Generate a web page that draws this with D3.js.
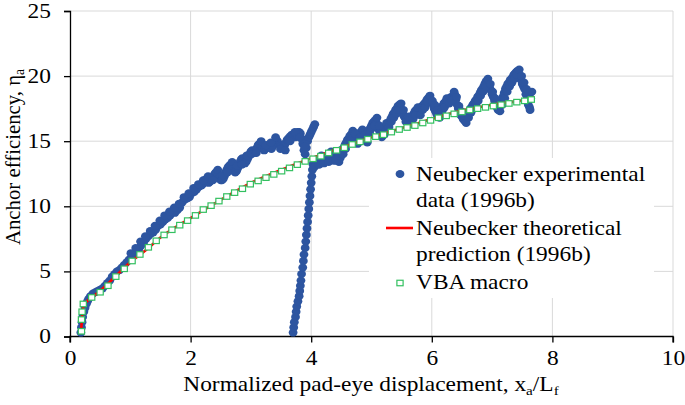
<!DOCTYPE html>
<html>
<head>
<meta charset="utf-8">
<script src="https://cdn.jsdelivr.net/npm/d3@7"></script>
<style>
  html, body { margin: 0; padding: 0; background: #fff; }
</style>
</head>
<body>
<svg id="chart" width="685" height="405" style="font-family: 'Liberation Serif', 'Times New Roman', serif;"></svg>
<script>
// ---------- DATA ----------
const xTicks = [0, 2, 4, 6, 8, 10];
const yTicks = [0, 5, 10, 15, 20, 25];
const xTitle = "Normalized pad-eye displacement, x";
const yTitle = "Anchor efficiency, η";
const seriesNames = ["Neubecker experimental|data (1996b)", "Neubecker theoretical|prediction (1996b)", "VBA macro"];

// Experimental data (blue dots): first loading branch
const expX1 = [
  0.18,0.19,0.20,0.21,0.23,0.25,0.27,0.29,0.31,0.34,0.38,0.42,0.46,0.50,0.54,0.58,0.62,0.66,0.70,0.74,
  0.78,0.82,0.86,0.90,0.94,0.98,1.02,1.06,1.10,1.14,1.18,1.22,1.26,1.30,1.34,1.38,1.42,1.46,1.50,1.54,
  1.58,1.62,1.66,1.70,1.74,1.78,1.82,1.86,1.90,1.94,1.98,2.02,2.06,2.10,2.14,2.18,
  2.20,2.22,2.24,2.26,2.28,2.30,2.32,2.34,2.36,2.38,2.40,2.42,2.44,2.46,2.48,2.50,2.52,2.54,2.56,2.58,
  2.60,2.62,2.64,2.66,2.68,2.70,2.72,2.74,2.76,2.78,2.80,2.82,2.84,2.86,2.88,2.90,2.92,2.94,2.96,2.98,
  3.00,3.02,3.04,3.06,3.08,3.10,3.12,3.14,3.16,3.18,3.20,3.22,3.24,3.26,3.28,3.30,3.32,3.34,3.36,3.38,
  3.40,3.42,3.44,3.46,3.48,3.50,3.52,3.54,3.56,3.58,3.60,3.62,3.64,3.66,3.68,3.70,3.72,3.74,3.76,3.78,
  3.80,3.82,3.84,3.86,3.88,3.90,3.92,3.94,3.96,3.98,4.00,4.02,4.04,4.06
];
const expY1 = [
  0.3,0.7,1.1,1.5,1.9,2.2,2.5,2.7,2.9,3.1,3.3,3.4,3.5,3.6,3.7,3.9,4.1,4.3,4.6,4.8,
  5.0,5.1,5.3,5.5,5.7,5.9,6.1,6.3,6.5,6.7,7.0,7.2,7.5,7.7,7.9,8.0,8.2,8.5,8.6,8.8,
  9.0,9.1,9.3,9.6,9.5,9.7,9.9,10.3,10.5,10.6,10.7,11.0,11.1,11.3,11.5,11.6,
  11.7,11.8,12.0,12.1,12.0,11.8,11.9,12.0,12.2,12.3,12.5,12.6,12.5,12.4,12.2,12.0,12.0,12.1,12.3,12.6,
  12.8,13.0,13.1,13.2,13.1,12.9,12.7,12.6,12.7,12.9,13.2,13.4,13.6,13.7,13.5,13.3,13.4,13.6,13.8,14.0,
  14.2,14.3,14.2,14.1,14.3,14.5,14.7,14.8,14.7,14.6,14.4,14.3,14.4,14.5,14.6,14.7,14.6,14.4,14.6,14.9,
  15.0,15.1,15.0,14.8,14.7,14.6,14.5,14.5,14.7,14.9,15.1,15.2,15.3,15.4,15.5,15.5,15.4,15.3,15.5,15.7,
  15.7,15.6,15.2,14.8,14.3,14.0,14.5,15.0,15.3,15.5,15.7,15.9,16.1,16.3
];
// scatter within the first branch band
const expX1b = [1.01,1.09,1.17,1.25,1.33,1.41,1.49,1.57,1.65,1.73,1.81,1.89,1.97,2.05,2.13,2.21,2.29,2.37,2.45,2.53,
  2.61,2.69,2.77,2.85,2.93,3.01,3.09,3.17,3.25,3.33,3.41,3.49,3.57,3.65,3.73,3.81,3.89];
const expY1b = [6.4,6.8,7.3,7.7,8.1,8.5,8.9,9.3,9.6,9.9,10.2,10.7,11.0,11.4,11.7,12.0,12.3,12.0,12.8,12.4,
  12.6,13.4,13.1,13.2,13.9,14.0,14.1,15.0,14.7,14.9,15.3,14.4,14.3,15.0,15.7,15.3,14.6];
// reloading segment
const expX2 = [3.70,3.71,3.72,3.74,3.75,3.76,3.78,3.80,3.81,3.82,3.83,3.84,3.86,3.87,3.88,3.90,3.91,3.92,3.93,3.94,
  3.95,3.96,3.97,3.98,3.99,4.00,4.01,4.02,4.03];
const expY2 = [0.3,0.7,1.1,1.5,1.9,2.3,2.7,3.1,3.5,3.9,4.3,4.8,5.3,5.8,6.3,6.8,7.3,7.8,8.3,8.8,
  9.3,9.8,10.3,10.8,11.3,11.8,12.3,12.8,13.2];
// second loading branch
const expX3 = [
  4.04,4.06,4.08,4.10,4.12,4.14,4.16,4.18,4.20,4.22,4.24,4.26,4.28,4.30,4.32,4.34,4.36,4.38,4.40,4.42,
  4.44,4.46,4.48,4.50,4.52,4.54,4.56,4.58,4.60,4.62,4.64,4.66,4.68,4.70,4.72,4.74,4.76,4.78,4.80,4.82,
  4.84,4.86,4.88,4.90,4.92,4.94,4.96,4.98,5.00,5.02,5.04,5.06,5.08,5.10,5.12,5.14,5.16,5.18,5.20,5.22,
  5.24,5.26,5.28,5.30,5.32,5.34,5.36,5.38,5.40,5.42,5.44,5.46,5.48,5.50,5.52,5.54,5.56,5.58,5.60,5.62,
  5.64,5.66,5.68,5.70,5.72,5.74,5.76,5.78,5.80,5.82,5.84,5.86,5.88,5.90,5.92,5.94,5.96,5.98,6.00,6.02,
  6.04,6.06,6.08,6.10,6.12,6.14,6.16,6.18,6.20,6.22,6.24,6.26,6.28,6.30,6.32,6.34,6.36,6.38,6.40,6.42,
  6.44,6.46,6.48,6.50,6.52,6.54,6.56,6.58,6.60,6.62,6.64,6.66,6.68,6.70,6.72,6.74,6.76,6.78,6.80,6.82,
  6.84,6.86,6.88,6.90,6.92,6.94,6.96,6.98,7.00,7.02,7.04,7.06,7.08,7.10,7.12,7.14,7.16,7.18,7.20,7.22,
  7.24,7.26,7.28,7.30,7.32,7.34,7.36,7.38,7.40,7.42,7.44,7.46,7.48,7.50,7.52,7.54,7.56,7.58,7.60,7.62,
  7.64,7.66
];
const expY3 = [
  13.3,13.4,13.2,13.3,13.5,13.4,13.6,13.7,13.5,13.4,13.6,13.5,13.7,13.8,14.0,13.9,13.7,13.6,13.8,13.9,
  13.6,13.4,13.7,14.0,14.3,14.5,14.7,14.9,15.1,15.2,15.4,15.5,15.6,15.4,15.2,15.0,15.2,15.4,15.6,15.7,
  15.6,15.4,15.2,15.1,15.3,15.5,15.8,16.0,16.2,16.4,16.5,16.6,16.4,16.1,15.9,15.7,15.6,15.5,15.7,15.9,
  16.0,16.2,16.4,16.5,16.7,16.9,17.1,17.2,17.4,17.5,17.7,17.8,17.6,17.3,17.1,16.9,16.8,16.7,16.6,16.5,
  16.5,16.6,16.9,17.1,17.3,17.4,17.3,17.2,17.3,17.5,17.7,17.8,17.9,18.0,18.2,18.3,18.4,18.2,18.0,17.8,
  17.5,17.3,17.1,16.9,17.1,17.4,17.6,17.7,17.9,18.0,18.1,18.1,18.2,18.3,18.4,18.4,18.5,18.6,18.2,17.8,
  17.5,17.2,17.0,16.9,16.7,16.6,16.6,16.8,17.0,17.3,17.5,17.6,17.8,17.9,18.1,18.2,18.4,18.5,18.7,18.9,
  19.0,19.2,19.4,19.6,19.5,19.4,19.1,18.9,18.6,18.4,18.1,17.8,17.6,17.4,17.6,17.9,18.1,18.4,18.7,19.0,
  19.2,19.4,19.5,19.7,19.8,19.9,20.1,20.2,20.3,20.4,20.2,20.0,19.7,19.4,19.2,19.0,18.6,18.2,17.8,17.6,
  18.3,18.8
];
// scatter within the second branch band
const expX3b = [4.05,4.09,4.13,4.17,4.21,4.25,4.29,4.33,4.37,4.41,4.45,4.49,4.53,4.57,4.61,4.65,4.69,4.73,4.77,4.81,
  4.85,4.89,4.93,4.97,5.01,5.05,5.09,5.13,5.17,5.21,5.25,5.29,5.33,5.37,5.41,5.45,5.49,5.53,5.57,5.61,
  5.65,5.69,5.73,5.77,5.81,5.85,5.89,5.93,5.97,6.01,6.05,6.09,6.13,6.17,6.21,6.25,6.29,6.33,6.37,6.41,
  6.45,6.49,6.53,6.57,6.61,6.65,6.69,6.73,6.77,6.81,6.85,6.89,6.93,6.97,7.01,7.05,7.09,7.13,7.17,7.21,
  7.25,7.29,7.33,7.37,7.41,7.45,7.49,7.53,7.57,7.61,7.63];
const expY3b = [13.0,13.6,13.2,13.9,13.3,13.8,13.4,14.2,13.5,13.5,13.9,14.3,14.0,14.4,14.8,15.0,15.8,15.6,14.8,15.3,
  15.9,15.5,14.9,15.6,16.0,16.2,16.8,16.2,15.3,15.5,16.4,16.1,16.5,16.8,17.1,17.4,17.9,17.4,16.5,16.9,
  16.3,16.7,17.0,17.6,17.0,17.4,17.6,18.0,18.5,18.1,17.8,17.4,16.8,17.3,17.6,18.3,17.9,18.1,18.8,18.4,
  17.7,17.3,17.0,16.4,16.8,17.2,17.5,17.8,18.1,18.5,18.8,19.2,19.8,19.4,18.8,18.3,17.8,17.3,17.8,18.3,
  18.8,19.2,19.5,19.8,20.1,20.5,20.0,19.5,19.0,18.2,17.4];

// Theoretical prediction (red line)
const thX = [0.18,0.19,0.20,0.21,0.23,0.28,0.36,0.50,0.75,1.00,1.25,1.50,1.75,2.00,2.50,3.00,3.50,4.00,4.50,5.00,5.50,6.00,6.50,7.00,7.50,7.70];
const thY = [0.2,0.8,1.5,2.0,2.4,2.7,3.0,3.5,4.6,5.7,6.6,7.6,8.4,9.1,10.5,11.8,12.8,13.7,14.5,15.3,16.0,16.7,17.35,17.8,18.15,18.35];

// VBA macro (green squares)
const vbaX = [0.19,0.19,0.20,0.22,0.36,0.50,0.63,0.76,0.90,1.03,1.16,1.30,1.43,1.56,1.69,1.82,1.95,2.08,2.21,2.34,
  2.47,2.60,2.73,2.86,2.99,3.12,3.25,3.38,3.51,3.64,3.77,3.90,4.03,4.16,4.29,4.42,4.55,4.68,4.81,4.94,
  5.07,5.20,5.33,5.46,5.59,5.72,5.85,5.98,6.11,6.24,6.37,6.50,6.63,6.76,6.89,7.02,7.15,7.28,7.41,7.54,7.65];
const vbaY = [0.4,1.3,1.9,2.5,3.0,3.4,3.9,4.6,5.2,5.8,6.3,6.85,7.35,7.8,8.2,8.55,8.9,9.3,9.75,10.05,
  10.4,10.75,11.05,11.35,11.7,11.95,12.2,12.45,12.7,12.95,13.2,13.45,13.65,13.85,14.1,14.3,14.5,14.75,14.95,15.15,
  15.35,15.5,15.7,15.9,16.05,16.2,16.4,16.6,16.8,16.95,17.1,17.25,17.4,17.5,17.6,17.7,17.8,17.9,18.0,18.1,18.2];

// ---------- DRAW ----------
const FONT = "'Liberation Serif', 'Times New Roman', serif";
const SX = 1.17; // horizontal stretch of the text seen in the source image
const svg = d3.select("#chart");
const x = d3.scaleLinear().domain([0, 10]).range([70, 673]);
const y = d3.scaleLinear().domain([0, 25]).range([336.5, 11]);
const blue = "#2d55a0", red = "#ff0000", green = "#33c060", grid = "#d9d9d9";

// gridlines
svg.append("g").selectAll("line").data(yTicks.filter(d => d > 0)).join("line")
  .attr("x1", x(0)).attr("x2", x(10)).attr("y1", d => y(d)).attr("y2", d => y(d))
  .attr("stroke", grid).attr("stroke-width", 1);
svg.append("g").selectAll("line").data(xTicks.filter(d => d > 0)).join("line")
  .attr("x1", d => x(d)).attr("x2", d => x(d)).attr("y1", y(0)).attr("y2", y(25))
  .attr("stroke", grid).attr("stroke-width", 1);

// axes
const xAxis = svg.append("g").attr("transform", `translate(0,${y(0)})`)
  .call(d3.axisBottom(x).tickValues(xTicks).tickSize(6).tickPadding(8).tickFormat(d3.format("d")));
const yAxis = svg.append("g").attr("transform", `translate(${x(0)},0)`)
  .call(d3.axisLeft(y).tickValues(yTicks).tickSize(6).tickPadding(13).tickFormat(d3.format("d")));
[xAxis, yAxis].forEach(a => {
  a.attr("font-family", null).attr("font-size", null);
  a.select(".domain").attr("stroke", "#000").attr("stroke-width", 1.3);
  a.selectAll(".tick line").attr("stroke", "#000").attr("stroke-width", 1.3);
  a.selectAll(".tick text").style("font-size", "20px").style("font-family", FONT).attr("fill", "#000");
});
xAxis.select(".domain").attr("d", `M${x(0)},6V0H${x(10)}V6`);
xAxis.selectAll(".tick text").attr("transform", `scale(${SX},1)`);
yAxis.selectAll(".tick text").attr("x", -19 / SX).attr("transform", `scale(${SX},1)`);

// experimental dots
const exp = expX1.map((v, i) => [v, expY1[i]])
  .concat(expX1b.map((v, i) => [v, expY1b[i]]))
  .concat(expX2.map((v, i) => [v, expY2[i]]))
  .concat(expX3.map((v, i) => [v, expY3[i]]))
  .concat(expX3b.map((v, i) => [v, expY3b[i]]));
svg.append("g").selectAll("ellipse").data(exp).join("ellipse")
  .attr("cx", d => x(d[0])).attr("cy", d => y(d[1])).attr("rx", 4.4).attr("ry", 4).attr("fill", blue);

// theoretical line
const th = thX.map((v, i) => [v, thY[i]]);
svg.append("path").datum(th)
  .attr("d", d3.line().x(d => x(d[0])).y(d => y(d[1])).curve(d3.curveMonotoneX))
  .attr("fill", "none").attr("stroke", red).attr("stroke-width", 2.6);

// VBA squares
const vba = vbaX.map((v, i) => [v, vbaY[i]]);
const sw = 6.2, sh = 5.5;
svg.append("g").selectAll("rect").data(vba).join("rect")
  .attr("x", d => x(d[0]) - sw / 2).attr("y", d => y(d[1]) - sh / 2)
  .attr("width", sw).attr("height", sh)
  .attr("fill", "#fff").attr("stroke", green).attr("stroke-width", 1.2);

// axis titles
const xt = svg.append("text").attr("transform", `translate(371,391) scale(${SX},1)`).attr("text-anchor", "middle")
  .style("font-size", "20px").style("font-family", FONT);
xt.append("tspan").text(xTitle);
xt.append("tspan").style("font-size", "13px").attr("dy", 4).text("a");
xt.append("tspan").attr("dy", -4).text("/L");
xt.append("tspan").style("font-size", "13px").attr("dy", 4).text("f");

const yt = svg.append("text").attr("transform", `translate(20,157) rotate(-90) scale(1.04,1.08)`).attr("text-anchor", "middle")
  .style("font-size", "20px").style("font-family", FONT);
yt.append("tspan").text(yTitle);
yt.append("tspan").style("font-size", "13px").attr("dy", 4).text("a");

// legend
const lg = svg.append("g");
lg.append("rect").attr("x", 369).attr("y", 158).attr("width", 285).attr("height", 140).attr("fill", "#fff");
lg.append("ellipse").attr("cx", 400).attr("cy", 174).attr("rx", 4.4).attr("ry", 4).attr("fill", blue);
lg.append("line").attr("x1", 386).attr("x2", 413).attr("y1", 228).attr("y2", 228).attr("stroke", red).attr("stroke-width", 2.6);
lg.append("rect").attr("x", 400 - sw / 2).attr("y", 283 - sh / 2).attr("width", sw).attr("height", sh)
  .attr("fill", "#fff").attr("stroke", green).attr("stroke-width", 1.2);
const lines = [
  [seriesNames[0].split("|")[0], 181], [seriesNames[0].split("|")[1], 207],
  [seriesNames[1].split("|")[0], 235], [seriesNames[1].split("|")[1], 261],
  [seriesNames[2], 289]
];
lg.selectAll("text").data(lines).join("text")
  .attr("transform", d => `translate(416,${d[1]}) scale(${SX},1)`)
  .style("font-size", "20px").style("font-family", FONT).text(d => d[0]);
</script>
</body>
</html>
